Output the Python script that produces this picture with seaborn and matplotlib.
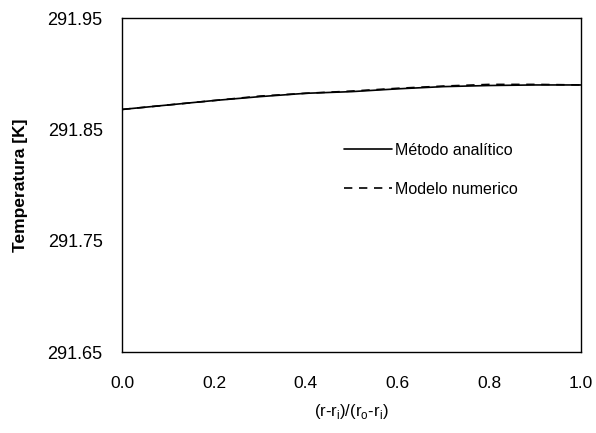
import numpy as np
import pandas as pd
import seaborn as sns
import matplotlib
matplotlib.use("Agg")
import matplotlib.pyplot as plt

# posicion radial adimensional
r_adim = [0.0, 0.1, 0.2, 0.3, 0.4, 0.5, 0.6, 0.7, 0.8, 0.9, 1.0]
# temperaturas [K]
t_analitico = [291.868, 291.872, 291.876, 291.8795, 291.8825, 291.884,
               291.8865, 291.8885, 291.8895, 291.890, 291.890]
t_numerico = [291.868, 291.872, 291.876, 291.880, 291.8825, 291.8845,
              291.887, 291.889, 291.8905, 291.8905, 291.890]

x_ticks = [0.0, 0.2, 0.4, 0.6, 0.8, 1.0]
x_ticklabels = ["0.0", "0.2", "0.4", "0.6", "0.8", "1.0"]
y_ticks = [291.65, 291.75, 291.85, 291.95]
y_ticklabels = ["291.65", "291.75", "291.85", "291.95"]

df = pd.DataFrame({"r": r_adim, "analitico": t_analitico, "numerico": t_numerico})

sns.set_style("white")
plt.rcParams["font.family"] = ["Liberation Sans", "DejaVu Sans"]
plt.rcParams["text.color"] = "black"
plt.rcParams["axes.labelcolor"] = "black"
plt.rcParams["xtick.color"] = "black"
plt.rcParams["ytick.color"] = "black"

fig = plt.figure(figsize=(5.96, 4.33), dpi=100)
ax = fig.add_axes([0.205, 0.187, 0.770, 0.771])

sns.lineplot(data=df, x="r", y="analitico", color="black", linewidth=1.2,
             label="Método analítico", ax=ax)
sns.lineplot(data=df, x="r", y="numerico", color="black", linewidth=1.2,
             linestyle=(0, (5, 4)), label="Modelo numerico", ax=ax)

ax.set_xlim(0, 1)
ax.set_ylim(291.65, 291.95)
ax.set_xticks(x_ticks)
ax.set_xticklabels(x_ticklabels, fontsize=12.5)
ax.set_yticks(y_ticks)
ax.set_yticklabels(y_ticklabels, fontsize=13)
ax.tick_params(axis="both", length=0)
ax.tick_params(axis="x", pad=17)
ax.tick_params(axis="y", pad=14)

for s in ax.spines.values():
    s.set_color("black")
    s.set_linewidth(1.0)

ax.set_xlabel(r"(r-r$_\mathregular{i}$)/(r$_\mathregular{o}$-r$_\mathregular{i}$)",
              fontsize=12, labelpad=8)
ax.set_ylabel("Temperatura [K]", fontsize=12.5, fontweight="bold", labelpad=14)

leg = ax.legend(loc="upper left", bbox_to_anchor=(0.453, 0.67), frameon=False,
                fontsize=11.5, handlelength=3.0, handletextpad=0.15,
                labelspacing=1.5)

fig.savefig("out.png", dpi=100)
